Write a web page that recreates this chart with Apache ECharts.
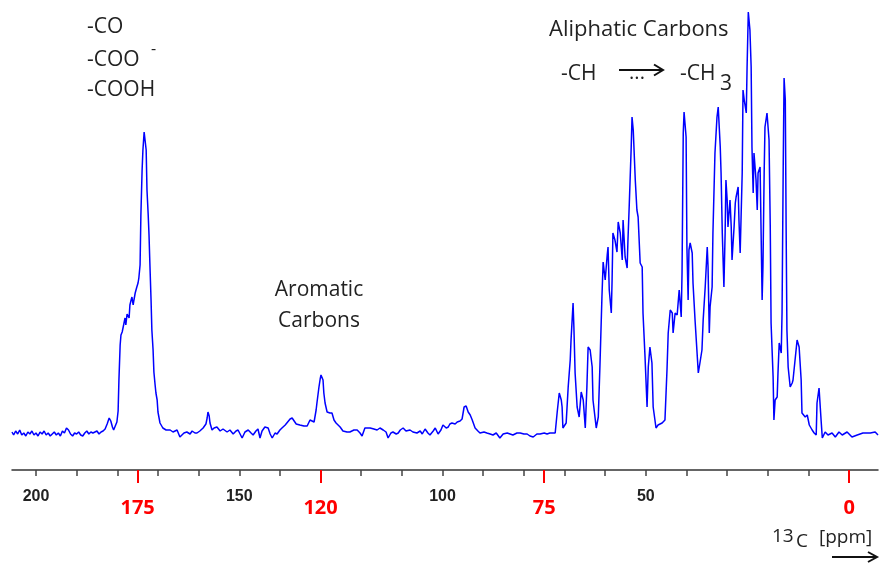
<!DOCTYPE html>
<html>
<head>
<meta charset="utf-8">
<script src="https://cdn.jsdelivr.net/npm/echarts@6/dist/echarts.min.js"></script>
<style>
html,body{margin:0;padding:0;background:#fff;}
#chart{width:880px;height:563px;}
</style>
</head>
<body>
<div id="chart"></div>
<script>
// 13C NMR spectrum: [chemical shift (ppm), intensity (arbitrary units)]
const carbonylRegion = [[205.9,1],[205.5,-2],[205,2],[204.5,-1],[204,3],[203.5,-2],[203,0],[202.5,-3],[202,1],[201.5,-1],[201,2],[200.5,-2],[200,0],[199.5,-3],[199,1],[198.5,-1],[198,2],[197.5,-2],[197,0],[196.5,-3],[196,-1],[195.5,1],[195,-2],[194.5,0],[194,-3],[193.5,2],[193,0],[192.5,5],[192,3],[191.5,-1],[191,-3],[190.5,0],[190,-1],[189.5,1],[189,-2],[188.5,-3],[188,0],[187.5,2],[187,-1],[186.5,1],[186,0],[185.5,1],[185,2],[184.5,-1],[184,1],[183.5,2],[183,4],[182.5,9],[182,15],[181.6,12],[181.2,6],[180.9,3],[180.5,5],[180.1,11],[179.8,22],[179.6,53],[179.3,88],[179.1,98],[178.8,101],[178.6,103],[178.3,111],[178.1,115],[177.9,108],[177.6,119],[177.4,121],[177.1,115],[176.9,128],[176.6,133],[176.4,136],[176.1,128],[175.9,133],[175.6,140],[175.4,143],[175.2,146],[174.9,150],[174.7,155],[174.4,168],[174.2,218],[173.9,263],[173.7,283],[173.4,301],[173.2,303],[172.9,283],[172.7,243],[172.4,218],[172.2,198],[172.0,171],[171.7,133],[171.5,103],[171.2,83],[171.0,61],[170.7,48],[170.5,40],[170.2,33],[170.0,21],[169.5,10],[168.8,5],[168.0,3],[167.0,3]];

const aromaticRegion = [[166.3,1],[165.3,3],[164.6,-4],[163.6,0],[162.9,1],[162.1,-1],[161.6,2],[160.9,0],[160.4,0],[159.7,2],[158.9,5],[158.2,9],[157.9,15],[157.7,21],[157.4,17],[157.2,10],[156.7,3],[156.2,5],[155.5,6],[154.7,2],[154.0,4],[153.0,1],[152.3,3],[151.5,-1],[150.8,2],[150.3,3],[149.3,-5],[148.6,1],[147.8,3],[147.1,0],[146.6,-2],[145.9,2],[145.4,4],[144.9,-5],[144.4,2],[143.7,6],[142.9,5],[142.4,-1],[141.9,-5],[141.2,0],[140.7,-1],[140.0,3],[139.5,5],[138.7,8],[138.3,10],[137.5,14],[137.0,15],[136.5,12],[136.0,9],[135.1,8],[134.1,7],[133.3,7],[132.6,13],[132.1,12],[131.6,11],[131.1,23],[130.9,30],[130.4,46],[130.1,54],[129.9,58],[129.6,57],[129.4,53],[129.2,40],[128.9,30],[128.4,21],[127.7,20],[127.2,20],[126.7,13],[126.2,10],[125.2,6],[124.5,2],[123.5,1],[122.8,1],[121.8,3],[121.0,3],[120.3,0],[119.8,-3]];

const midRegion = [[119.1,5],[117.8,5],[116.9,4],[116.1,3],[115.4,5],[114.6,3],[113.9,1],[113.4,-5],[112.7,0],[112.2,1],[111.4,-1],[110.9,0],[110.4,3],[109.7,5],[109.0,2],[108.0,3],[107.3,1],[106.3,0],[105.5,2],[105.0,-1],[104.3,4],[103.6,0],[103.1,-2],[102.3,2],[101.8,5],[101.1,-1],[100.4,3],[99.9,8],[99.1,5],[98.6,6],[98.2,9],[97.7,10],[96.9,9],[96.4,11],[95.7,12],[95.2,14],[94.7,26],[94.2,27],[93.7,21],[93.2,18],[92.7,13],[92.0,5],[91.3,2],[90.8,0],[89.8,1],[89.1,0],[88.3,-1],[87.6,-2],[86.8,0],[85.9,-5],[85.1,-1],[84.1,0],[83.4,-1],[82.7,-2],[81.7,0],[80.9,0],[80.0,-1],[79.2,-1],[78.5,-3],[77.7,-4],[76.8,-1],[76.0,-1],[75.0,0],[74.3,-1],[73.6,0],[72.8,0],[72.3,0]];

const aliphaticRegion = [[71.8,21],[71.3,40],[70.8,33],[70.6,26],[70.4,5],[69.6,10],[69.1,46],[68.6,73],[68.4,93],[67.9,130],[67.7,106],[67.4,60],[66.9,26],[66.4,16],[65.9,41],[65.4,33],[64.9,5],[64.5,46],[64.2,86],[63.7,83],[63.2,66],[63.0,33],[62.2,5],[61.7,16],[61.3,66],[60.8,136],[60.5,171],[60.0,153],[59.5,178],[59.3,186],[59.0,143],[58.5,120],[58.3,153],[58.1,200],[57.6,193],[57.1,181],[56.8,211],[56.3,200],[55.8,173],[55.6,213],[55.1,176],[54.6,165],[54.4,193],[54.1,226],[53.6,286],[53.4,316],[53.1,303],[52.6,253],[52.2,223],[51.9,216],[51.4,170],[50.9,166],[50.7,120],[50.2,76],[49.7,26],[49.4,66],[49.0,86],[48.5,70],[48.2,26],[47.5,5],[47.0,8],[46.5,9],[46.0,10],[45.3,13],[44.8,63],[44.5,100],[44.0,123],[43.5,120],[43.3,100],[42.8,120],[42.3,118],[41.8,143],[41.3,116],[41.1,160],[40.8,300],[40.6,321],[40.1,296],[39.9,186],[39.6,133],[39.4,183],[39.1,190],[38.6,180],[38.4,150],[37.9,113],[37.4,80],[37.1,60],[36.7,70],[36.2,83],[35.9,113],[35.4,146],[34.9,186],[34.7,166],[34.4,100],[34.2,126],[33.7,146],[33.5,200],[33.0,280],[32.5,316],[32.2,326],[31.7,286],[31.5,260],[31.2,200],[30.8,146],[30.5,200],[30.3,253],[30.0,233],[29.8,206],[29.3,233],[29.0,206],[28.8,173],[28.3,206],[28.0,230],[27.8,236],[27.3,246],[27.1,213],[26.8,180],[26.3,260],[26.1,343],[25.8,333],[25.3,320],[25.1,366],[24.8,421],[24.4,403],[24.1,366],[23.9,286],[23.6,240],[23.4,280],[22.9,253],[22.6,223],[22.4,260],[21.9,266],[21.4,133],[21.2,166],[20.9,260],[20.7,306],[20.2,320],[19.9,320],[19.7,293],[19.4,206],[19.2,110],[18.7,56],[18.5,13],[18.2,33],[17.7,36],[17.5,60],[17.2,90],[16.7,80],[16.5,120],[16.2,273],[16.0,355],[15.7,333],[15.5,206],[15.3,103],[15.0,66],[14.5,46],[14.0,50],[13.8,53],[13.3,73],[12.8,93],[12.3,86],[11.8,53],[11.6,20],[10.8,16],[10.3,18],[9.8,8],[9.1,3],[8.6,0],[8.1,-2],[7.9,30],[7.4,45],[6.9,13],[6.6,-5]];

const baselineRight = [[5.9,1],[5.2,-2],[4.2,0],[3.4,-4],[2.5,1],[1.7,-2],[0.5,1],[-0.7,-4],[-2.0,-2],[-3.4,0],[-5.2,0],[-6.4,1],[-7.1,-2]];

const axisMin = -7.1, axisMax = 205.9;
const blackTicks = [200,190,180,170,160,150,140,120,110,100,90,80,70,60,50,40,30,20,10];
const blackTickLabels = [200,150,100,50];
const redTickPositions = [175,130,75,0];
const redTickLabels = ['175','120','75','0'];

const spectrum = carbonylRegion.concat(aromaticRegion, midRegion, aliphaticRegion, baselineRight);

const chart = echarts.init(document.getElementById('chart'), null, {renderer:'canvas'});
const txt = '#222';
const F = '"Open Sans", "Noto Sans", sans-serif';
function label(text, x, y, size, align){
  return {type:'text', style:{text:text, x:x, y:y, font:size+'px '+F, fill:txt, textAlign:align||'left', textVerticalAlign:'middle', verticalAlign:'middle'}, z:10};
}
chart.setOption({
  animation:false,
  grid:{left:12, right:2, top:0, bottom:93, containLabel:false},
  xAxis:[{
    type:'value', min:axisMin, max:axisMax, inverse:true, position:'bottom',
    axisLine:{show:true, onZero:false, lineStyle:{color:'#333', width:1.5}},
    axisTick:{show:true, customValues:blackTicks, length:6, lineStyle:{color:'#444', width:1.5}},
    axisLabel:{show:true, customValues:blackTickLabels, color:'#222', fontWeight:'bold', fontSize:16, fontFamily:'"Liberation Sans", Arial, sans-serif', margin:19},
    splitLine:{show:false}
  },{
    type:'value', min:axisMin, max:axisMax, inverse:true, position:'bottom',
    axisLine:{show:false, onZero:false},
    axisTick:{show:true, customValues:redTickPositions, length:13, lineStyle:{color:'#ff0000', width:2}},
    axisLabel:{show:true, customValues:redTickPositions, color:'#ff0000', fontWeight:'bold', fontSize:20, fontFamily:F, margin:28,
      formatter:function(v){ const i = redTickPositions.indexOf(v); return i>=0 ? redTickLabels[i] : ''; }},
    splitLine:{show:false}
  }],
  yAxis:{type:'value', min:-37, max:433, show:false},
  series:[{
    type:'line', xAxisIndex:0, data:spectrum, showSymbol:false, symbol:'none',
    lineStyle:{color:'#0000ff', width:1.5}
  }],
  graphic:[
    label('-CO', 87, 27, 21),
    label('-COO', 87, 60, 21),
    label('-', 151, 49, 16),
    label('-COOH', 87, 90, 21),
    label('Aliphatic Carbons', 549, 30, 22),
    label('-CH', 561, 74, 21),
    label('...', 637, 73, 20, 'center'),
    label('-CH', 680, 74, 21),
    label('3', 720, 84, 21),
    label('Aromatic', 319, 290, 21, 'center'),
    label('Carbons', 319, 321, 21, 'center'),
    label('13', 772, 537, 19),
    label('C', 796, 542, 19),
    label('[ppm]', 819, 538, 19),
    {type:'polyline', shape:{points:[[619,70],[662,70]]}, style:{stroke:'#111', lineWidth:2}},
    {type:'polyline', shape:{points:[[654,64.5],[663,70],[654,75.5]]}, style:{stroke:'#111', lineWidth:2, fill:null}},
    {type:'polyline', shape:{points:[[832,557],[876,557]]}, style:{stroke:'#111', lineWidth:2}},
    {type:'polyline', shape:{points:[[868,552],[877,557],[868,562]]}, style:{stroke:'#111', lineWidth:2, fill:null}}
  ]
});
</script>
</body>
</html>
